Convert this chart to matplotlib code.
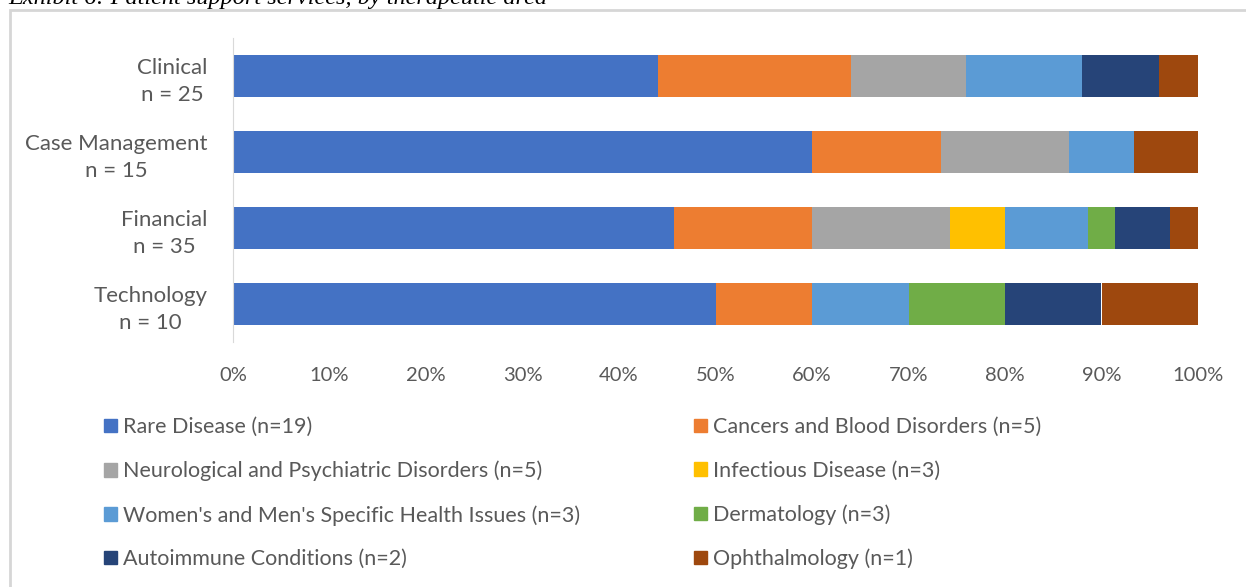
import numpy as np
import matplotlib.pyplot as plt
from matplotlib.patches import Rectangle, Patch

# services (rows) and counts of programs per therapeutic area
services = ["Clinical\nn = 25", "Case Management\nn = 15",
            "Financial\nn = 35", "Technology\nn = 10"]
areas = ["Rare Disease (n=19)",
         "Cancers and Blood Disorders (n=5)",
         "Neurological and Psychiatric Disorders (n=5)",
         "Infectious Disease (n=3)",
         "Women's and Men's Specific Health Issues (n=3)",
         "Dermatology (n=3)",
         "Autoimmune Conditions (n=2)",
         "Ophthalmology (n=1)"]
rare = [11, 9, 16, 5]
cancers = [5, 2, 5, 1]
neuro = [3, 2, 5, 0]
infectious = [0, 0, 2, 0]
womens_mens = [3, 1, 3, 1]
derm = [0, 0, 1, 1]
autoimmune = [2, 0, 2, 1]
ophthalmology = [1, 1, 1, 1]
colors = ["#4472C4", "#ED7D31", "#A5A5A5", "#FFC000",
          "#5B9BD5", "#70AD47", "#264478", "#9E480E"]

counts = np.array([rare, cancers, neuro, infectious, womens_mens,
                   derm, autoimmune, ophthalmology], dtype=float)
shares = counts / counts.sum(axis=0)

plt.rcParams['font.family'] = ['Lato', 'DejaVu Sans']
grey_text = "#595959"

fig = plt.figure(figsize=(12.46, 5.87), dpi=100)

# chart frame and the clipped exhibit title above it
fig.patches.append(Rectangle((10 / 1246, -0.1), 1.1, 1.1 - 10 / 587,
                             transform=fig.transFigure, fill=False,
                             edgecolor="#d6d6d6", linewidth=2))
fig.text(8 / 1246, 1 - 4 / 587,
         "Exhibit 6: Patient support services, by therapeutic area",
         family="Liberation Serif", style="italic", fontsize=17.5,
         va="baseline", ha="left", color="black")

ax = fig.add_axes([233 / 1246, 1 - 342 / 587, 965 / 1246, 304 / 587])
y = np.arange(len(services))
left = np.zeros(len(services))
for share, color, label in zip(shares, colors, areas):
    ax.barh(y, share, left=left, height=0.55, color=color, label=label)
    left += share

ax.set_xlim(0, 1)
ax.set_ylim(len(services) - 0.5, -0.5)
ax.set_yticks(y)
ax.set_yticklabels(services, fontsize=16, color=grey_text,
                   multialignment="center", linespacing=1.45)
ticks = np.linspace(0, 1, 11)
ax.set_xticks(ticks)
ax.set_xticklabels([f"{int(round(v * 100))}%" for v in ticks],
                   fontsize=14.5, color=grey_text)
ax.tick_params(axis="both", length=0)
ax.tick_params(axis="x", pad=18)
ax.tick_params(axis="y", pad=18.5)
for side in ["top", "right", "bottom"]:
    ax.spines[side].set_visible(False)
ax.spines["left"].set_color("#d9d9d9")

handles = [Patch(color=c) for c in colors]
common = dict(frameon=False, fontsize=15.5, handlelength=0.6,
              handleheight=0.6, handletextpad=0.3, labelspacing=1.1,
              borderpad=0, borderaxespad=0, labelcolor=grey_text)
fig.legend(handles[0::2], areas[0::2], loc="upper left",
           bbox_to_anchor=(104 / 1246, 1 - 417 / 587), **common)
fig.legend(handles[1::2], areas[1::2], loc="upper left",
           bbox_to_anchor=(694 / 1246, 1 - 417 / 587), **common)

fig.savefig("out.png", dpi=100)
